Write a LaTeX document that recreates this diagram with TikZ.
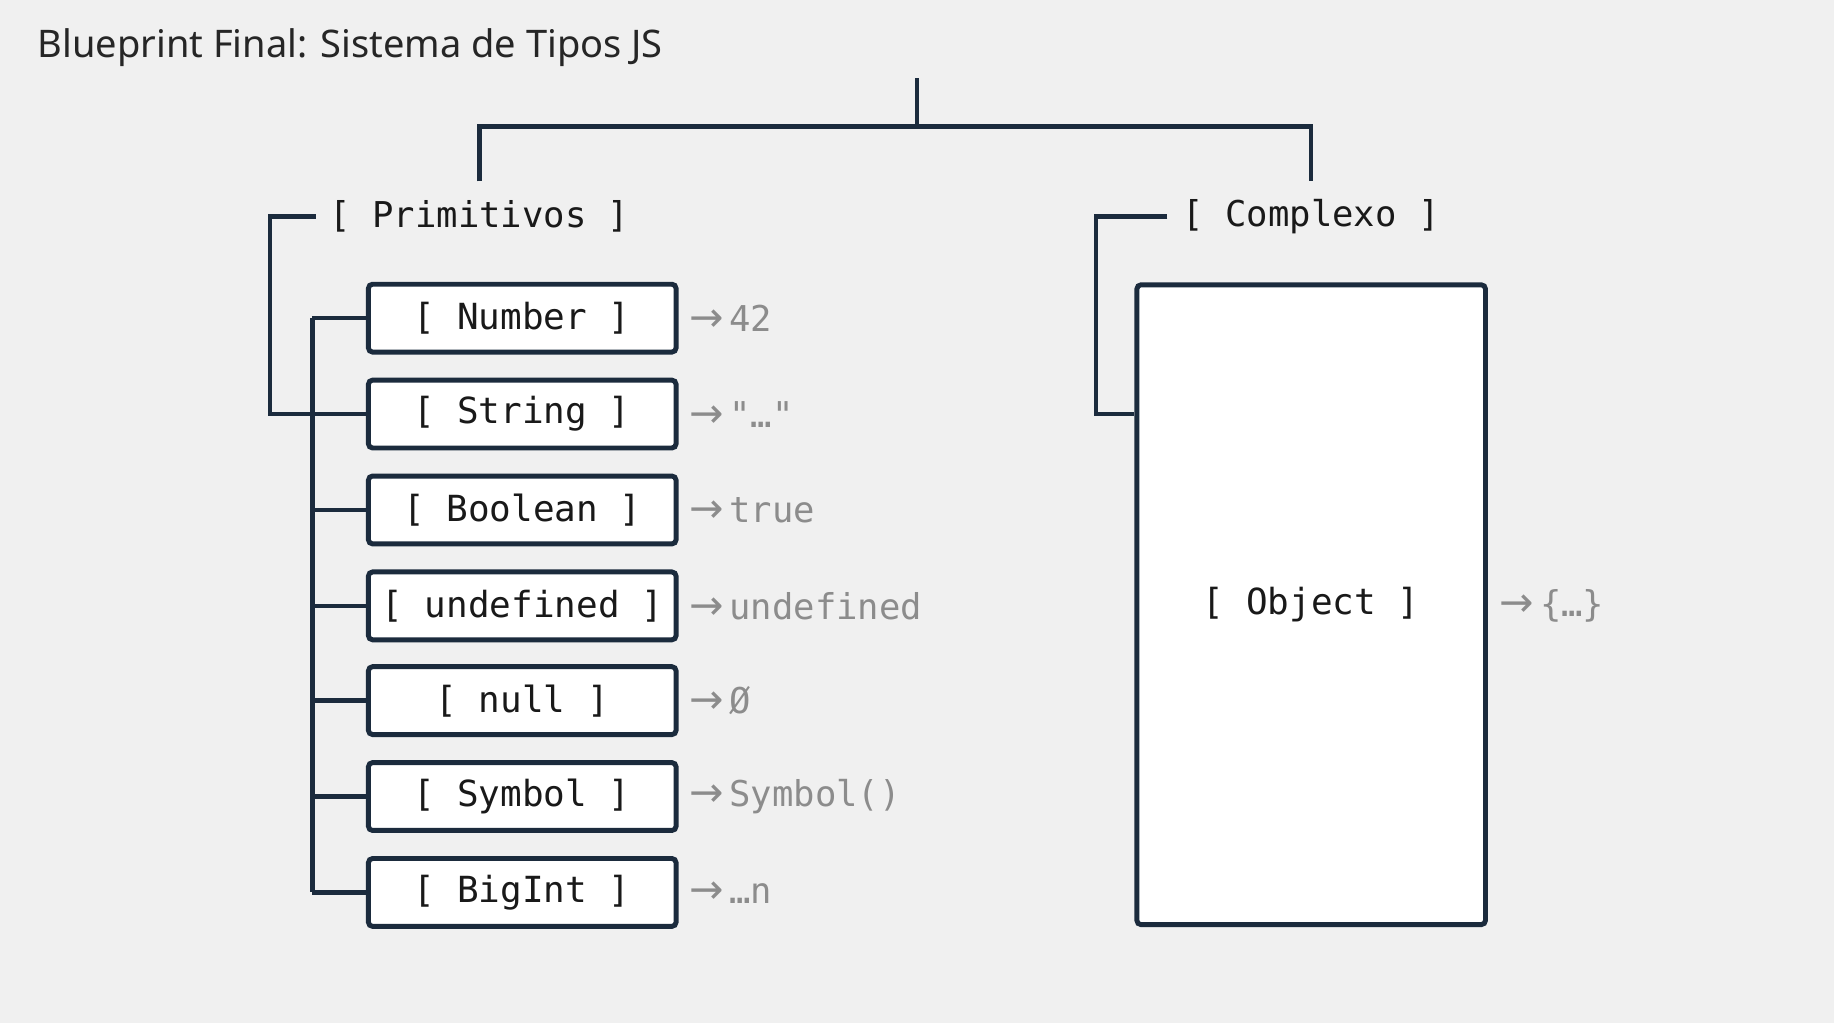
\documentclass[tikz,border=0pt]{standalone}
\usepackage{fontspec}
\setmainfont{Noto Sans}
\setmonofont{DejaVu Sans Mono}
\newfontfamily\arr{DejaVu Sans}
\begin{document}
\begin{tikzpicture}[x=0.02cm,y=-0.02cm,
  ln/.style={draw=navy,line width=2.2pt},
  box/.style={draw=navy,line width=2.4pt,fill=white,rounded corners=2pt,minimum width=263*0.02cm,minimum height=58*0.02cm,font=\ttfamily\fontsize{17.5}{20}\selectfont,text=black!90},
  lab/.style={font=\ttfamily\fontsize{17.3}{20}\selectfont,text=black!90},
  val/.style={anchor=west,font=\ttfamily\fontsize{17.3}{20}\selectfont,text=gray!90}]
\definecolor{navy}{HTML}{1B2B3D}
\newcommand{\ar}{{\arr\fontsize{20}{20}\selectfont →}}
\fill[gray!12] (0,0) rectangle (1568,875);
\useasboundingbox (0,0) rectangle (1568,875);
\node[anchor=west,font=\fontsize{18.5}{22}\selectfont,text=black!85] (title) at (26,41) {Blueprint Final: Sistema de Tipos JS};
\coordinate (top) at (784,67);
\coordinate (mid) at (784,108);
\node[lab] (prim) at (410,185) {[ Primitivos ]};
\node[lab] (comp) at (1121,185) {[ Complexo ]};
\draw[ln] (top) -- (mid);
\draw[ln] (410,155) |- (1121,108) -- ++(0,47);
\foreach \n/\t/\v/\y in {num/Number/42/272, str/String/"…"/354, boo/Boolean/true/436, und/undefined/undefined/518, nul/null/Ø/599, sym/Symbol/Symbol()/681, big/BigInt/…n/763}{
  \node[box] (\n) at (446.5,\y) {[ \t\ ]};
  \node[val] (\n v) at (583,\y) {\ar\,\v};
  \draw[ln] (267,\y) -- (\n.west);
}
\draw[ln] (267,272) -- (267,763);
\draw[ln] (270,185) -- (231,185) |- (str.west);
\node[box,minimum width=298*0.02cm,minimum height=547*0.02cm] (obj) at (1121,517) {[ Object ]};
\node[val] (objv) at (1276,518) {\ar\,\{…\}};
\draw[ln] (998,185) -- (937,185) |- (obj.west |- str);
\end{tikzpicture}
\end{document}
